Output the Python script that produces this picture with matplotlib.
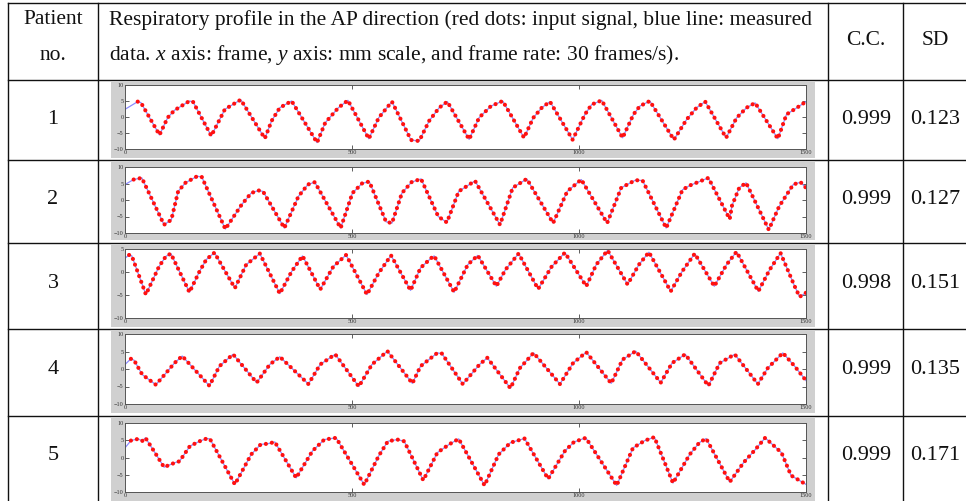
import matplotlib
matplotlib.use("Agg")
import matplotlib.pyplot as plt
from matplotlib.lines import Line2D
from matplotlib.patches import Rectangle

plt.rcParams.update({
    "font.family": "Liberation Serif",
    "mathtext.fontset": "custom",
    "mathtext.rm": "Liberation Serif",
    "mathtext.it": "Liberation Serif:italic",
})

W, H = 966, 501

# per-patient respiratory traces (frame, mm)
f1 = [0, 28, 35, 76, 94, 109, 142, 150, 190, 220, 235, 255, 308, 323, 341, 367, 423, 441, 470, 491,
      537, 559, 574, 588, 630, 648, 670, 692, 710, 758, 780, 806, 832, 879, 899, 918, 936, 986, 1013, 1028,
      1050, 1096, 1120, 1134, 1156, 1209, 1237, 1259, 1278, 1324, 1347, 1369, 1388, 1438, 1457, 1480, 1500]
v1 = [2.4, 4.8, 4.5, -5.6, -0.2, 2.1, 5.0, 4.7, -5.9, 2.4, 3.7, 5.4, -6.7, -1.2, 2.9, 5.0, -8.0, -1.8, 2.9, 5.2,
      -6.8, -0.2, 2.4, 4.8, -7.2, -7.5, -1.2, 2.9, 4.8, -7.0, -0.2, 3.4, 5.0, -6.5, -0.3, 2.9, 4.8, -7.1, 0.8, 3.9,
      5.2, -6.5, 0.8, 3.4, 5.0, -7.1, -0.8, 2.9, 4.8, -6.5, -0.3, 2.9, 4.4, -6.8, 0.8, 2.9, 4.8]

f2 = [0, 19, 37, 86, 102, 117, 133, 159, 169, 221, 257, 278, 294, 304, 351, 382, 403, 418, 475, 501,
      522, 538, 575, 588, 610, 631, 652, 690, 709, 735, 771, 826, 854, 885, 943, 974, 1005, 1062, 1093, 1124,
      1140, 1192, 1228, 1244, 1285, 1332, 1337, 1353, 1368, 1418, 1441, 1472, 1488, 1500]
v2 = [4.7, 6.2, 6.7, -7.5, -6.0, 2.6, 5.2, 7.2, 7.0, -8.8, -1.4, 2.1, 2.9, 2.6, -8.5, 1.1, 4.7, 5.4, -8.5, 2.1,
      5.0, 5.6, -6.6, -7.0, 2.1, 5.4, 6.4, -5.0, -6.8, 2.6, 5.8, -7.5, 3.7, 6.4, -7.0, 2.6, 6.2, -7.0, 3.7, 6.0,
      5.9, -8.5, 3.1, 4.4, 6.7, -5.8, -1.7, 3.7, 5.2, -9.0, -1.9, 4.7, 5.4, 3.7]

f3 = [0, 9, 15, 46, 75, 90, 101, 142, 164, 179, 197, 242, 267, 297, 341, 367, 391, 430, 459, 487,
      533, 559, 586, 629, 651, 674, 681, 725, 755, 777, 818, 838, 867, 910, 940, 969, 1016, 1038, 1063, 1107,
      1132, 1154, 1202, 1227, 1255, 1298, 1325, 1347, 1395, 1420, 1444, 1475, 1486, 1500]
v3 = [3.0, 3.7, 3.5, -4.9, 1.2, 3.4, 4.0, -4.4, 0.1, 2.7, 4.2, -3.5, 1.6, 4.0, -4.7, 0.1, 3.5, -3.8, 1.2, 3.7,
      -4.9, -0.2, 3.6, -4.0, 0.9, 3.0, 3.5, -4.4, 1.6, 3.6, -3.1, 0.5, 4.0, -3.7, 1.2, 4.2, -3.1, 1.6, 4.7, -2.7,
      1.6, 4.3, -4.2, 0.1, 4.0, -3.1, 1.6, 4.4, -4.2, 0.5, 4.1, -3.1, -5.4, -4.5]

f4 = [0, 13, 20, 38, 68, 90, 109, 126, 186, 208, 238, 290, 319, 341, 404, 430, 463, 515, 544, 578,
      633, 651, 688, 698, 744, 781, 798, 849, 870, 900, 958, 987, 1016, 1071, 1096, 1125, 1180, 1205, 1234, 1285,
      1310, 1343, 1394, 1416, 1449, 1475, 1500]
v4 = [1.3, 2.9, 2.5, -1.6, -4.5, -1.2, 1.7, 3.7, -4.8, 0.8, 4.2, -3.9, 1.3, 3.5, -4.3, 1.3, 4.2, -5.0, 1.3, 5.1,
      -4.1, 0.8, 4.6, 4.4, -4.3, 1.3, 3.2, -5.5, 0.3, 4.6, -4.3, 1.7, 4.8, -4.1, 2.7, 5.1, -3.9, 1.7, 4.2, -4.8,
      1.7, 4.2, -4.3, 0.3, 4.6, 0.8, -3.3]

f5 = [0, 13, 29, 38, 45, 66, 86, 112, 120, 143, 164, 180, 187, 242, 278, 299, 315, 330, 377, 413,
      439, 465, 527, 559, 579, 600, 615, 657, 688, 714, 735, 792, 823, 849, 880, 932, 969, 989, 1015, 1083,
      1119, 1145, 1166, 1207, 1244, 1265, 1280, 1332, 1363, 1389, 1410, 1446, 1467, 1500]
v5 = [2.8, 4.9, 5.4, 4.8, 5.7, 1.4, -2.8, -1.4, -1.1, 3.3, 4.7, 5.5, 5.4, -7.8, 0.9, 3.8, 4.0, 4.5, -5.9, 1.9,
      5.2, 5.7, -7.9, 0.5, 4.7, 5.2, 4.7, -6.6, 1.4, 3.8, 5.4, -8.1, 0.9, 4.3, 5.5, -6.2, 1.9, 4.5, 5.7, -8.1,
      2.8, 4.9, 5.9, -7.4, 0.9, 4.3, 5.5, -7.1, -1.4, 2.4, 5.7, 1.4, -5.2, -7.8]

patients = ["1", "2", "3", "4", "5"]
cc = ["0.999", "0.999", "0.998", "0.999", "0.999"]
sd = ["0.123", "0.127", "0.151", "0.135", "0.171"]
traces = [(f1, v1), (f2, v2), (f3, v3), (f4, v4), (f5, v5)]
ylims = [(-10, 10), (-10, 10), (-10, 5), (-10, 10), (-10, 10)]
yticks = [[-10, -5, 0, 5, 10], [-10, -5, 0, 5, 10], [-10, -5, 0, 5], [-10, -5, 0, 5, 10], [-10, -5, 0, 5, 10]]
xticks = [0, 500, 1000, 1500]

# layout in pixels (top-left origin)
ROW_LINES = [80, 160, 243, 329, 416]
ROW_MID = [120, 200, 284, 370, 455]
COL_LINES = [8, 98, 828, 903]
GRAY = [(82, 158), (162, 240), (245, 327), (331, 413), (418, 501)]
AXY = [(85, 149), (167, 233), (249, 318), (334, 404), (423, 492)]
AX_X = (125, 806)
GRAY_X = (111, 815)


def fx(px):
    return px / W


def fy(py):
    return 1 - py / H


fig = plt.figure(figsize=(W / 100, H / 100), dpi=100)

def hline(y, x0=8, x1=W):
    fig.add_artist(Line2D([fx(x0), fx(x1)], [fy(y), fy(y)], color="#111", lw=1.0))

def vline(x, y0=3, y1=H):
    fig.add_artist(Line2D([fx(x), fx(x)], [fy(y0), fy(y1)], color="#111", lw=1.0))

hline(3)
for y in ROW_LINES:
    hline(y)
for x in COL_LINES:
    vline(x)

# header
hdr = dict(fontsize=15.5, color="#111")
fig.text(fx(53), fy(20), "Patient", ha="center", va="center", **hdr)
fig.text(fx(53), fy(55), "no.", ha="center", va="center", **hdr)
fig.text(fx(109), fy(20), "Respiratory profile in the AP direction (red dots: input signal, blue line: measured",
         ha="left", va="center", **hdr)
fig.text(fx(109), fy(55), r"data. $x$ axis: frame, $y$ axis: mm scale, and frame rate: 30 frames/s).",
         ha="left", va="center", **hdr)
fig.text(fx(866), fy(41), "C.C.", ha="center", va="center", **hdr)
fig.text(fx(935), fy(41), "SD", ha="center", va="center", **hdr)

for i, (f, v) in enumerate(traces):
    cy = ROW_MID[i]
    fig.text(fx(53), fy(cy), patients[i], ha="center", va="center", fontsize=16, color="#111")
    fig.text(fx(866), fy(cy), cc[i], ha="center", va="center", fontsize=16, color="#111")
    fig.text(fx(935), fy(cy), sd[i], ha="center", va="center", fontsize=16, color="#111")

    g0, g1 = GRAY[i]
    fig.add_artist(Rectangle((fx(GRAY_X[0]), fy(g1)), fx(GRAY_X[1] - GRAY_X[0]), (g1 - g0) / H,
                             transform=fig.transFigure, facecolor="#d0d0d0", edgecolor="none", zorder=0))
    a0, a1 = AXY[i]
    ax = fig.add_axes([fx(AX_X[0]), fy(a1), fx(AX_X[1] - AX_X[0]), (a1 - a0) / H])
    ax.set_facecolor("white")
    ax.plot(f, v, color="#8a8aff", lw=0.9, zorder=2)
    ax.plot(f[1:], v[1:], color="#ff1010", lw=3.0, linestyle=(0, (0.01, 1.45)),
            dash_capstyle="round", zorder=3)
    ax.set_xlim(0, 1500)
    ax.set_ylim(*ylims[i])
    ax.set_xticks(xticks)
    ax.set_yticks(yticks[i])
    ax.tick_params(direction="in", length=3, width=0.6, top=True, right=True,
                   labelsize=4.5, labelcolor="#333", color="#444", pad=1)
    for s in ax.spines.values():
        s.set_color("#555")
        s.set_linewidth(0.7)

fig.savefig("out.png", dpi=100, facecolor="white")
